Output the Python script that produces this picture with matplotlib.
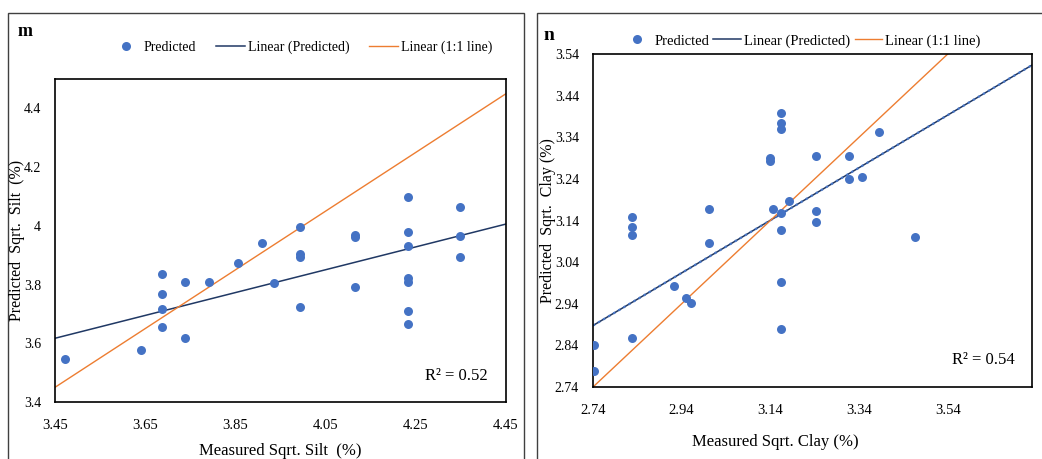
import numpy as np
import matplotlib.pyplot as plt
from matplotlib.patches import Rectangle
from matplotlib.lines import Line2D

plt.rcParams['font.family'] = ['Liberation Serif', 'DejaVu Serif']

# panel m: silt
silt_meas = [3.472, 3.641, 3.687, 3.687, 3.687, 3.687, 3.739, 3.739, 3.792, 3.856,
             3.910, 3.936, 3.993, 3.993, 3.993, 3.993, 4.115, 4.115, 4.115, 4.232,
             4.232, 4.232, 4.232, 4.232, 4.232, 4.232, 4.348, 4.348, 4.348]
silt_pred = [3.545, 3.577, 3.836, 3.769, 3.718, 3.654, 3.810, 3.617, 3.810, 3.874,
             3.942, 3.804, 3.997, 3.903, 3.895, 3.722, 3.970, 3.962, 3.791, 4.097,
             3.980, 3.931, 3.821, 3.810, 3.711, 3.665, 4.065, 3.965, 3.895]
silt_fit = (0.389, 2.275)   # slope, intercept of Excel trendline
silt_r2 = 0.52

# panel n: clay
clay_meas = [2.742, 2.742, 2.828, 2.828, 2.828, 2.828, 2.923, 2.949, 2.962, 3.001,
             3.001, 3.140, 3.140, 3.146, 3.163, 3.163, 3.163, 3.163, 3.163, 3.163,
             3.163, 3.183, 3.243, 3.243, 3.243, 3.318, 3.318, 3.347, 3.385, 3.466]
clay_pred = [2.842, 2.778, 3.148, 3.125, 3.105, 2.858, 2.982, 2.954, 2.941, 3.167,
             3.085, 3.290, 3.283, 3.167, 3.399, 3.375, 3.359, 3.157, 3.117, 2.993,
             2.880, 3.187, 3.295, 3.164, 3.137, 3.295, 3.239, 3.245, 3.352, 3.100]
clay_fit = (0.632, 1.156)
clay_r2 = 0.54

pt_col = '#4472C4'
fit_col = '#203864'
one_col = '#ED7D31'

fig = plt.figure(figsize=(10.42, 4.59), dpi=100)
W, H = 1042, 459

def px_axes(x0, x1, ytop, ybot):
    return fig.add_axes([x0 / W, (H - ybot) / H, (x1 - x0) / W, (ybot - ytop) / H])

# outer panel frames
for x0, x1 in [(8, 524), (537, 1046)]:
    fig.add_artist(Rectangle((x0 / W, -0.05), (x1 - x0) / W, (H - 13) / H + 0.05,
                             transform=fig.transFigure, fill=False,
                             edgecolor='#404040', lw=1.0))

def panel(ax, xm, yp, fit, r2, xlim, ylim, xticks, yticks, xfmt, yfmt, dotted=False):
    ax.scatter(xm, yp, s=42, color=pt_col, zorder=3, linewidths=0)
    xs = np.array(xlim)
    ax.plot(xs, fit[0] * xs + fit[1], color=fit_col, lw=1.1, zorder=2)
    if dotted:
        ax.plot(xs, fit[0] * xs + fit[1], color='#4a78c8', lw=1.6, ls=':', zorder=2)
    ax.plot(xs, xs, color=one_col, lw=1.0, zorder=2)
    ax.set_xlim(*xlim)
    ax.set_ylim(*ylim)
    ax.set_xticks(xticks)
    ax.set_yticks(yticks)
    ax.set_xticklabels([xfmt.format(v) for v in xticks])
    ax.set_yticklabels([yfmt(v) for v in yticks])
    ax.tick_params(length=0, labelsize=10.5)
    ax.tick_params(axis='x', pad=12)
    ax.tick_params(axis='y', labelsize=10, pad=10)
    for s in ax.spines.values():
        s.set_linewidth(1.2)
        s.set_color('black')
    ax.text(0.96, 0.08, 'R² = {:.2f}'.format(r2), transform=ax.transAxes,
            ha='right', va='center', fontsize=12)

# left panel m
ax1 = px_axes(55, 506, 79, 402)
panel(ax1, silt_meas, silt_pred, silt_fit, silt_r2, (3.45, 4.45), (3.4, 4.5),
      [3.45, 3.65, 3.85, 4.05, 4.25, 4.45], [3.4, 3.6, 3.8, 4.0, 4.2, 4.4],
      '{:.2f}', lambda v: ('%g' % v))
fig.text(280 / W, (H - 451) / H, 'Measured Sqrt. Silt  (%)',
         ha='center', va='center', fontsize=12)
fig.text(17 / W, (H - 240) / H, 'Predicted  Sqrt.  Silt  (%)', rotation=90,
         ha='center', va='center', fontsize=11.5)
fig.text(18 / W, (H - 32) / H, 'm', fontsize=13, fontweight='bold',
         ha='left', va='center')

# right panel n
ax2 = px_axes(593, 1032, 54, 387)
panel(ax2, clay_meas, clay_pred, clay_fit, clay_r2, (2.74, 3.73), (2.74, 3.54),
      [2.74, 2.94, 3.14, 3.34, 3.54], [2.74 + 0.1 * i for i in range(9)],
      '{:.2f}', lambda v: '%.2f' % v, dotted=True)
fig.text(775 / W, (H - 442) / H, 'Measured Sqrt. Clay (%)',
         ha='center', va='center', fontsize=12)
fig.text(548 / W, (H - 221) / H, 'Predicted  Sqrt.  Clay (%)', rotation=90,
         ha='center', va='center', fontsize=11.5)
fig.text(543 / W, (H - 35) / H, 'n', fontsize=14, fontweight='bold',
         ha='left', va='center')

def legend_handles():
    return [Line2D([], [], ls='', marker='o', markersize=6.5, color=pt_col,
                   markeredgewidth=0),
            Line2D([], [], color=fit_col, lw=1.1),
            Line2D([], [], color=one_col, lw=1.0)]

labels = ['Predicted', 'Linear (Predicted)', 'Linear (1:1 line)']
fig.legend(legend_handles(), labels, loc='center', ncol=3, frameon=False,
           bbox_to_anchor=(302 / W, (H - 47) / H), fontsize=10,
           handlelength=2.1, handletextpad=0.2, columnspacing=1.4)
fig.legend(legend_handles(), labels, loc='center', ncol=3, frameon=False,
           bbox_to_anchor=(802 / W, (H - 41) / H), fontsize=10.5,
           handlelength=1.9, handletextpad=0.2, columnspacing=0.3)

fig.savefig('out.png', dpi=100)
